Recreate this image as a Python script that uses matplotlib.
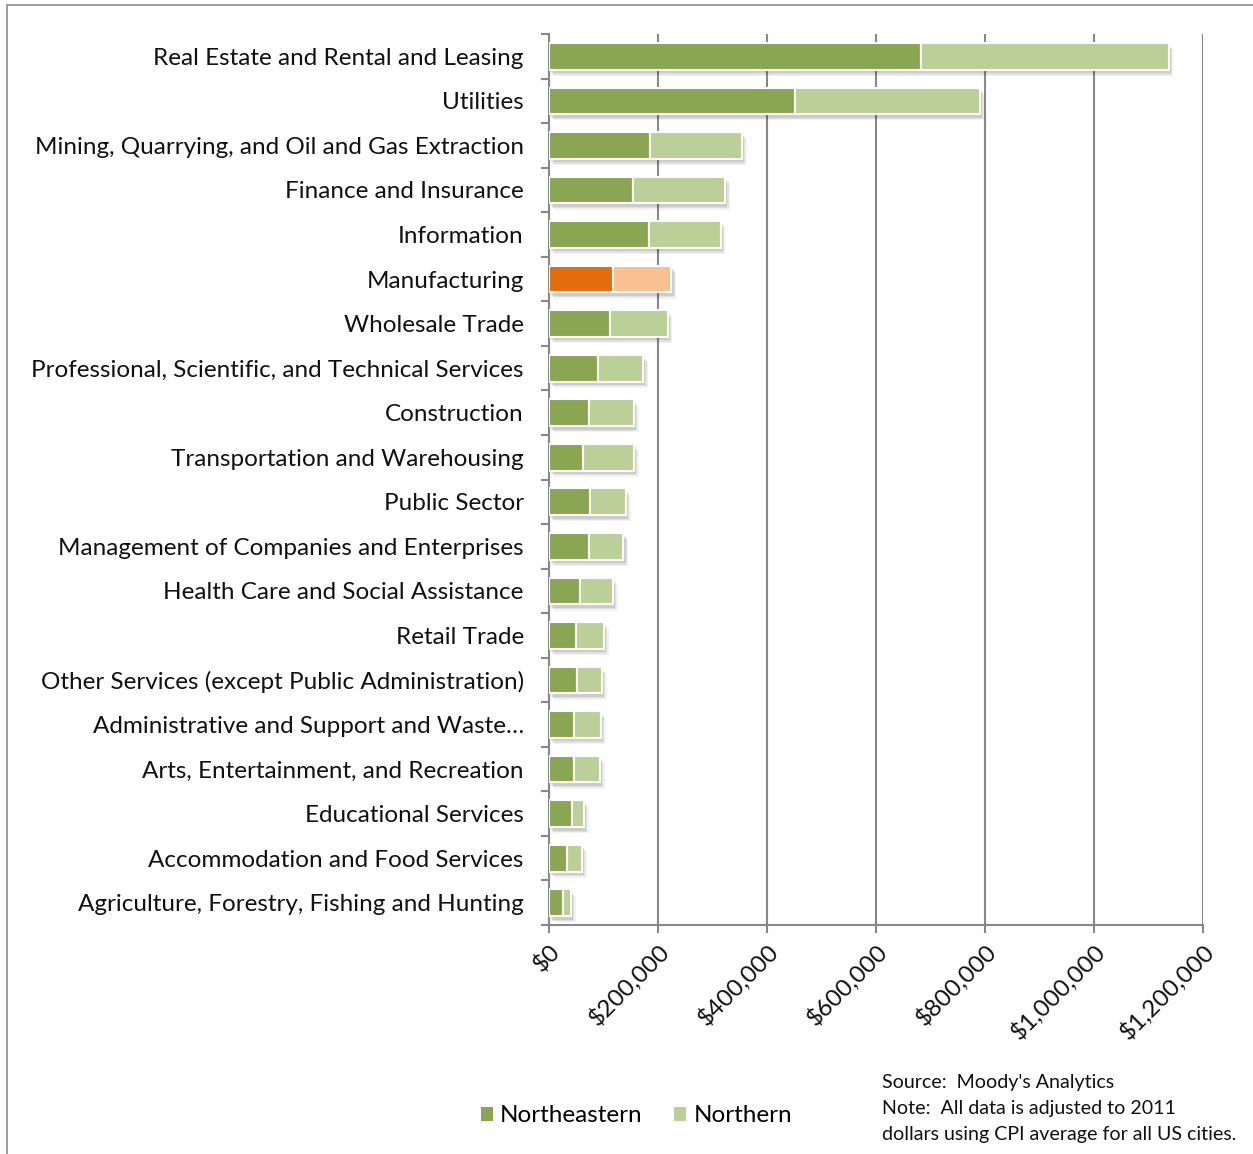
import matplotlib
matplotlib.use("Agg")
import matplotlib.pyplot as plt
import matplotlib.patheffects as pe
from matplotlib.ticker import FuncFormatter
from matplotlib.patches import Rectangle

plt.rcParams['font.family'] = ['Lato', 'DejaVu Sans']

industries = [
    "Real Estate and Rental and Leasing",
    "Utilities",
    "Mining, Quarrying, and Oil and Gas Extraction",
    "Finance and Insurance",
    "Information",
    "Manufacturing",
    "Wholesale Trade",
    "Professional, Scientific, and Technical Services",
    "Construction",
    "Transportation and Warehousing",
    "Public Sector",
    "Management of Companies and Enterprises",
    "Health Care and Social Assistance",
    "Retail Trade",
    "Other Services (except Public Administration)",
    "Administrative and Support and Waste\u2026",
    "Arts, Entertainment, and Recreation",
    "Educational Services",
    "Accommodation and Food Services",
    "Agriculture, Forestry, Fishing and Hunting",
]
northeastern = [682000, 451000, 185000, 154000, 183000, 117000, 112000, 90000,
                73000, 62000, 75000, 73000, 57000, 49500, 51000, 46000,
                46000, 42000, 33000, 25500]
northern = [455000, 340000, 169000, 170000, 132000, 108000, 106000, 83000,
            83000, 94000, 66000, 64000, 60500, 51500, 46000, 49500,
            47500, 22000, 27500, 15000]
highlight = "Manufacturing"

ne_color, n_color = "#8BA652", "#BBCF98"
ne_hi, n_hi = "#E46C0A", "#FAC090"

fig = plt.figure(figsize=(12.53, 11.54), dpi=100)
ax = fig.add_axes([0.438, 0.1984, 0.522, 0.7721])

y = list(range(len(industries)))
c1 = [ne_hi if n == highlight else ne_color for n in industries]
c2 = [n_hi if n == highlight else n_color for n in industries]

# soft drop shadow built from a few stacked, faint offset copies
shadow = [pe.SimplePatchShadow(offset=(dx, dy), shadow_rgbFace="#000000", alpha=a)
          for dx, dy, a in [(3.5, -4.5, 0.05), (2.5, -3.5, 0.07), (1.5, -2.5, 0.09)]]
shadow.append(pe.Normal())

b1 = ax.barh(y, northeastern, height=0.6, color=c1, edgecolor="white",
             linewidth=1.5, zorder=3, label="Northeastern")
b2 = ax.barh(y, northern, left=northeastern, height=0.6, color=c2,
             edgecolor="white", linewidth=1.5, zorder=3, label="Northern")
for bars in (b1, b2):
    for p in bars:
        p.set_path_effects(shadow)

ax.set_ylim(len(industries) - 0.5, -0.5)
ax.set_xlim(0, 1200000)
ax.set_xticks(range(0, 1200001, 200000))
ax.xaxis.set_major_formatter(FuncFormatter(lambda v, _: f"${v:,.0f}"))
ax.set_yticks(y)
ax.set_yticklabels(industries, fontsize=17.5, color="#111111")
ax.set_yticks([i + 0.5 for i in range(-1, len(industries))], minor=True)
ax.tick_params(axis='y', which='major', length=0, pad=18)
ax.tick_params(axis='y', which='minor', length=6, width=1.5, color="#888888")
ax.tick_params(axis='x', length=6, width=1.5, color="#888888", pad=5)
for lbl in ax.get_xticklabels():
    lbl.set_rotation(45)
    lbl.set_ha('right')
    lbl.set_va('top')
    lbl.set_rotation_mode('anchor')
    lbl.set_fontsize(17.5)
    lbl.set_color("#111111")

ax.grid(axis='x', color="#888888", linewidth=1.5, zorder=0)
ax.set_axisbelow(True)
for s in ("top", "right"):
    ax.spines[s].set_visible(False)
for s in ("left", "bottom"):
    ax.spines[s].set_color("#888888")
    ax.spines[s].set_linewidth(1.5)

leg = fig.legend(handles=[b1, b2], labels=["Northeastern", "Northern"],
                 loc="center", bbox_to_anchor=(0.508, 0.033), ncol=2,
                 frameon=False, fontsize=17.5, handlelength=0.5, handleheight=0.5,
                 handletextpad=0.3, columnspacing=1.3)
for h in leg.legend_handles:
    h.set_path_effects([])
    h.set_edgecolor("none")

fig.text(0.704, 0.069, "Source:  Moody's Analytics\nNote:  All data is adjusted to 2011\n"
         "dollars using CPI average for all US cities.",
         fontsize=14.1, va="top", ha="left", linespacing=1.62, color="#111111")

fig.add_artist(Rectangle((0.0056, -0.01), 1.2, 1.0057,
                         transform=fig.transFigure, fill=False,
                         edgecolor="#8c8c8c", linewidth=1.2))

fig.savefig("out.png", dpi=100, facecolor="white")
